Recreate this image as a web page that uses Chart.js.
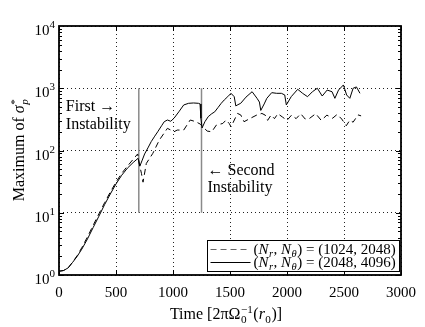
<!DOCTYPE html>
<html>
<head>
<meta charset="utf-8">
<script src="https://cdn.jsdelivr.net/npm/chart.js@4.4.1/dist/chart.umd.min.js"></script>
<style>
html,body{margin:0;padding:0;background:#fff;}
#wrap{width:425px;height:327px;position:relative;}
</style>
</head>
<body>
<div id="wrap"><canvas id="c" width="425" height="327"></canvas></div>
<script>
// ---- data ----
const resolutions = [[1024, 2048], [2048, 4096]];

const dashedX = [0,40,80,120,160,200,250,300,350,400,450,500,550,600,650,690,705,723,737,766,823,880,951,1009,1037,1094,1151,1200,1240,1262,1300,1340,1380,1437,1466,1494,1509,1566,1594,1623,1680,1737,1780,1809,1830,1860,1890,1920,1960,2000,2040,2080,2120,2160,2195,2252,2300,2350,2400,2440,2480,2520,2550,2580,2623,2650];
const dashedY = [1.15,1.18,1.3,1.62,2.05,2.75,4.1,6.3,9.6,14.5,21.5,31,43,56,72,88,60,43,31,62,90,147,227,200,213,213,309,290,265,240,205,200,256,272,309,270,240,394,373,290,330,373,394,370,305,370,325,390,345,305,370,325,390,320,325,390,305,370,330,380,320,250,305,285,373,360];

const solidX = [0,40,80,120,160,200,250,300,350,400,450,500,550,600,650,694,709,730,751,780,809,840,866,900,923,951,980,1009,1051,1094,1137,1180,1223,1237,1245,1255,1280,1309,1340,1366,1395,1423,1450,1480,1509,1537,1551,1570,1594,1640,1694,1737,1758,1770,1800,1823,1866,1909,1951,1980,1994,2037,2094,2137,2180,2223,2266,2309,2352,2395,2420,2452,2495,2523,2551,2580,2609,2640];
const solidY = [1.15,1.18,1.3,1.6,2.0,2.6,3.8,5.8,8.8,13.5,20,29,40,52,64,75,56,70,88,110,139,170,200,250,290,309,295,330,418,539,573,580,573,560,330,230,290,350,390,418,490,573,650,732,829,732,520,545,573,720,880,689,600,440,560,689,850,829,829,780,539,732,962,829,732,880,1000,750,935,880,689,935,1130,780,689,1000,1050,830];

const instabilityX = [700, 1250];
const instabilityRange = [10, 1000];

const xTicks = [0, 500, 1000, 1500, 2000, 2500, 3000];
const yTicks = [1, 10, 100, 1000, 10000];

// ---- helpers ----
const FONT = '"Liberation Serif", "Times New Roman", serif';

function drawRich(ctx, segs, x, y, size, align) {
  const items = [];
  let w = 0;
  const ss = size * 0.7;
  for (const s of segs) {
    if (s.t !== undefined) {
      ctx.font = (s.it ? 'italic ' : '') + size + 'px ' + FONT;
      const tw = ctx.measureText(s.t).width;
      items.push({s, w: tw}); w += tw;
    } else {
      let a = 0, b = 0;
      if (s.sup) { ctx.font = (s.supIt ? 'italic ' : '') + ss + 'px ' + FONT; a = ctx.measureText(s.sup).width; }
      if (s.sub) { ctx.font = (s.subIt ? 'italic ' : '') + ss + 'px ' + FONT; b = ctx.measureText(s.sub).width; }
      const tw = Math.max(a, b) + 1;
      items.push({s, w: tw}); w += tw;
    }
  }
  let cx = align === 'center' ? x - w / 2 : (align === 'right' ? x - w : x);
  ctx.textAlign = 'left';
  ctx.textBaseline = 'alphabetic';
  for (const it of items) {
    const s = it.s;
    if (s.t !== undefined) {
      ctx.font = (s.it ? 'italic ' : '') + size + 'px ' + FONT;
      ctx.fillText(s.t, cx, y);
    } else {
      if (s.sup) { ctx.font = (s.supIt ? 'italic ' : '') + ss + 'px ' + FONT; ctx.fillText(s.sup, cx + 0.5, y - size * 0.4); }
      if (s.sub) { ctx.font = (s.subIt ? 'italic ' : '') + ss + 'px ' + FONT; ctx.fillText(s.sub, cx + 0.5, y + size * 0.22); }
    }
    cx += it.w;
  }
  return w;
}

function measureRich(ctx, segs, size) {
  let w = 0; const ss = size * 0.7;
  for (const s of segs) {
    if (s.t !== undefined) { ctx.font = (s.it ? 'italic ' : '') + size + 'px ' + FONT; w += ctx.measureText(s.t).width; }
    else {
      let a = 0, b = 0;
      if (s.sup) { ctx.font = ss + 'px ' + FONT; a = ctx.measureText(s.sup).width; }
      if (s.sub) { ctx.font = ss + 'px ' + FONT; b = ctx.measureText(s.sub).width; }
      w += Math.max(a, b) + 1;
    }
  }
  return w;
}

function legendSegs(r) {
  return [
    {t: '('}, {t: 'N', it: true}, {sub: 'r', subIt: true}, {t: ', '},
    {t: 'N', it: true}, {sub: 'θ', subIt: true}, {t: ') = (' + r[0] + ', ' + r[1] + ')'}
  ];
}

const decor = {
  id: 'decor',
  afterDraw(chart) {
    const ctx = chart.ctx;
    const xs = chart.scales.x, ys = chart.scales.y;
    const ca = chart.chartArea;
    ctx.save();
    ctx.fillStyle = '#000';
    ctx.strokeStyle = '#000';

    // inward tick marks
    ctx.lineWidth = 1;
    ctx.beginPath();
    for (const v of xTicks) {
      const px = Math.round(xs.getPixelForValue(v)) + 0.5;
      ctx.moveTo(px, ca.bottom); ctx.lineTo(px, ca.bottom - 5);
      ctx.moveTo(px, ca.top); ctx.lineTo(px, ca.top + 5);
    }
    for (let d = 1; d < 10000; d *= 10) {
      for (let m = 1; m <= 9; m++) {
        const v = d * m;
        const py = Math.round(ys.getPixelForValue(v)) + 0.5;
        const len = m === 1 ? 5 : 3;
        ctx.moveTo(ca.left, py); ctx.lineTo(ca.left + len, py);
        ctx.moveTo(ca.right, py); ctx.lineTo(ca.right - len, py);
      }
    }
    ctx.stroke();

    // frame
    ctx.lineWidth = 1.8;
    ctx.strokeRect(ca.left, ca.top, ca.right - ca.left, ca.bottom - ca.top);

    // y tick labels 10^n
    for (const v of yTicks) {
      const py = ys.getPixelForValue(v);
      const e = String(Math.round(Math.log10(v)));
      ctx.font = '15px ' + FONT;
      const w10 = ctx.measureText('10').width;
      ctx.font = '11px ' + FONT;
      const we = ctx.measureText(e).width;
      const right = ca.left - 4;
      ctx.font = '15px ' + FONT;
      ctx.textAlign = 'left'; ctx.textBaseline = 'alphabetic';
      ctx.fillText('10', right - we - w10, py + 9);
      ctx.font = '11px ' + FONT;
      ctx.fillText(e, right - we, py + 2);
    }

    // axis titles
    drawRich(ctx, [
      {t: 'Time [2π'}, {t: 'Ω'}, {sup: '−1', sub: '0'}, {t: '('}, {t: 'r', it: true}, {sub: '0'}, {t: ')]'}
    ], 226, 319, 16, 'center');

    ctx.save();
    ctx.translate(19, 150);
    ctx.rotate(-Math.PI / 2);
    drawRich(ctx, [
      {t: 'Maximum of '}, {t: 'σ', it: true}, {sup: '*', sub: 'p', subIt: true}
    ], 0, 5, 16, 'center');
    ctx.restore();

    // annotations
    const ax1 = xs.getPixelForValue(instabilityX[0]);
    const ax2 = xs.getPixelForValue(instabilityX[1]);
    drawRich(ctx, [{t: 'First →'}], ax1 - 73, 111, 16, 'left');
    drawRich(ctx, [{t: 'Instability'}], ax1 - 73, 129, 16, 'left');
    drawRich(ctx, [{t: '← Second'}], ax2 + 6, 175, 16, 'left');
    drawRich(ctx, [{t: 'Instability'}], ax2 + 6, 192, 16, 'left');

    // legend
    const size = 15;
    const tw = Math.max(...resolutions.map(r => measureRich(ctx, legendSegs(r), size)));
    const sample = 40;
    const boxW = 4 + sample + 3 + tw + 4;
    const boxH = 31;
    const bx = ca.right - 2 - boxW, by = ca.bottom - 4 - boxH;
    ctx.fillStyle = '#fff';
    ctx.fillRect(bx, by, boxW, boxH);
    ctx.lineWidth = 1;
    ctx.strokeStyle = '#000';
    ctx.strokeRect(Math.round(bx) + 0.5, Math.round(by) + 0.5, Math.round(boxW), Math.round(boxH));
    const dashes = [[6, 4], []];
    resolutions.forEach((r, i) => {
      const cy = by + 8.5 + i * 13;
      ctx.setLineDash(dashes[i]);
      ctx.strokeStyle = i === 0 ? '#666' : '#000';
      ctx.beginPath();
      ctx.moveTo(bx + 4, Math.round(cy) + 0.5); ctx.lineTo(bx + 4 + sample, Math.round(cy) + 0.5);
      ctx.stroke();
      ctx.setLineDash([]);
      ctx.fillStyle = '#000';
      drawRich(ctx, legendSegs(r), bx + 4 + sample + 3, cy + 5, size, 'left');
    });
    ctx.restore();
  }
};

const pts = (xa, ya) => xa.map((x, i) => ({x, y: ya[i]}));

new Chart(document.getElementById('c'), {
  type: 'line',
  data: {
    datasets: [
      { label: 'dashed', data: pts(dashedX, dashedY), borderColor: '#000', borderWidth: 1, borderDash: [6, 4], pointRadius: 0, tension: 0, fill: false },
      { label: 'solid', data: pts(solidX, solidY), borderColor: '#000', borderWidth: 1, pointRadius: 0, tension: 0, fill: false },
      { label: 'i1', data: [{x: instabilityX[0], y: instabilityRange[0]}, {x: instabilityX[0], y: instabilityRange[1]}], borderColor: '#8a8a8a', borderWidth: 1.5, pointRadius: 0 },
      { label: 'i2', data: [{x: instabilityX[1], y: instabilityRange[0]}, {x: instabilityX[1], y: instabilityRange[1]}], borderColor: '#8a8a8a', borderWidth: 1.5, pointRadius: 0 }
    ]
  },
  options: {
    responsive: false,
    animation: false,
    devicePixelRatio: 1,
    layout: { padding: { top: 26, right: 16, left: 0, bottom: 0 } },
    plugins: { legend: { display: false }, tooltip: { enabled: false } },
    scales: {
      x: {
        type: 'linear', min: 0, max: 3000,
        afterBuildTicks: s => { s.ticks = xTicks.map(v => ({value: v})); },
        afterFit: s => { s.height = 52; },
        ticks: { font: { family: FONT, size: 15 }, color: '#000', padding: 9, maxRotation: 0, autoSkip: false, callback: v => String(v) },
        grid: { color: '#222', lineWidth: 1, drawTicks: false },
        border: { display: false, dash: [1, 3] }
      },
      y: {
        type: 'logarithmic', min: 1, max: 10000,
        afterBuildTicks: s => { s.ticks = yTicks.map(v => ({value: v})); },
        afterFit: s => { s.width = 59; },
        ticks: { display: false },
        grid: { color: '#222', lineWidth: 1, drawTicks: false },
        border: { display: false, dash: [1, 3] }
      }
    }
  },
  plugins: [decor]
});
</script>
</body>
</html>
